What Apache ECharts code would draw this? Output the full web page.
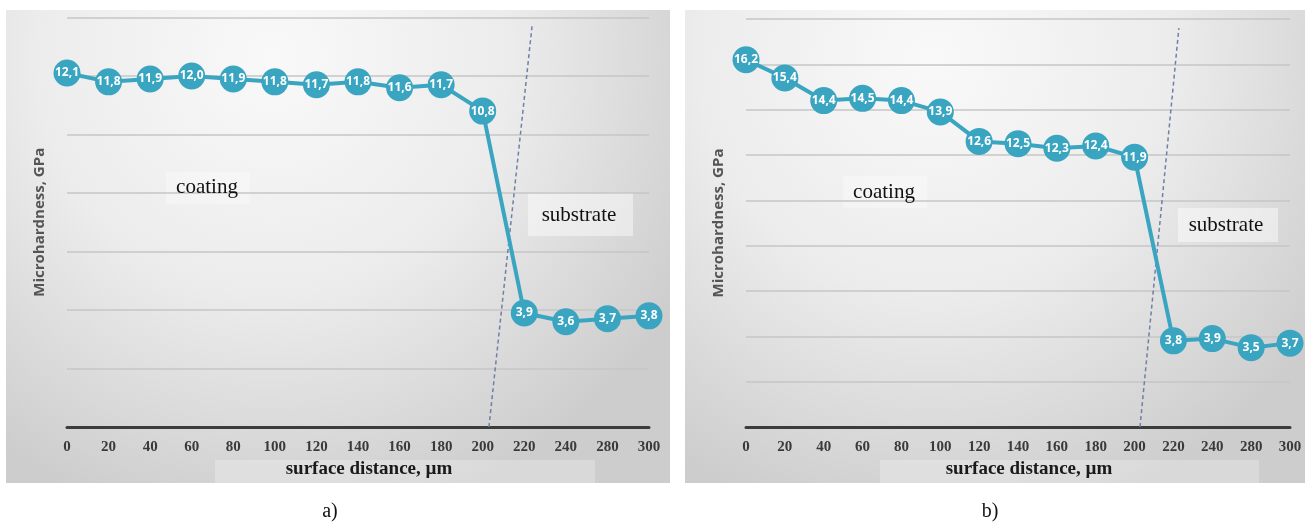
<!DOCTYPE html>
<html>
<head>
<meta charset="utf-8">
<script src="https://cdn.jsdelivr.net/npm/echarts@6/dist/echarts.min.js"></script>
<style>
  html, body { margin: 0; padding: 0; background: #fff; }
  #chart { width: 1308px; height: 531px; }
</style>
</head>
<body>
<div id="chart"></div>
<script>
// x tick labels (260 is missing in the original)
const distanceTicks = ['0', '20', '40', '60', '80', '100', '120', '140', '160', '180', '200', '220', '240', '280', '300']
// microhardness, GPa
const hardnessA = [12.1, 11.8, 11.9, 12.0, 11.9, 11.8, 11.7, 11.8, 11.6, 11.7, 10.8, 3.9, 3.6, 3.7, 3.8]
const hardnessB = [16.2, 15.4, 14.4, 14.5, 14.4, 13.9, 12.6, 12.5, 12.3, 12.4, 11.9, 3.8, 3.9, 3.5, 3.7]
// coating / substrate boundary (dashed), [tick index, GPa]
const boundaryA = [[10.15, 0], [11.19, 13.75]]
const boundaryB = [[10.14, 0], [11.14, 17.6]]

const teal = '#3aa5c1'
const serif = '"Liberation Serif", "Times New Roman", serif'
const sans = '"Open Sans", "Liberation Sans", sans-serif'

const toPairs = (arr) => arr.map((v, i) => [i, v])

const chart = echarts.init(document.getElementById('chart'))

// 背景面板
const panelBg = (x, w) => ({
  type: 'rect',
  z: -10,
  shape: { x: x, y: 10, width: w, height: 473 },
  style: {
    fill: new echarts.graphic.RadialGradient(0.4, 0.1, 1.0, [
      { offset: 0, color: '#f9f9f9' },
      { offset: 0.5, color: '#ececec' },
      { offset: 1, color: '#cdcdcd' }
    ])
  }
})
const softBox = (x, y, w, h, a) => ({
  type: 'rect',
  z: -5,
  shape: { x: x, y: y, width: w, height: h },
  style: { fill: 'rgba(255,255,255,' + a + ')' }
})
const label = (text, x, y, size, weight) => ({
  type: 'text',
  z: 10,
  x: x,
  y: y,
  style: {
    text: text,
    fill: '#111',
    font: (weight || 'normal') + ' ' + size + 'px ' + serif,
    textAlign: 'center',
    textVerticalAlign: 'middle'
  }
})

const xAxisBase = (gridIndex) => ({
  type: 'value',
  gridIndex: gridIndex,
  min: 0,
  max: distanceTicks.length - 1,
  interval: 1,
  name: 'surface distance, µm',
  nameLocation: 'middle',
  nameGap: 32,
  nameTextStyle: {
    fontFamily: serif,
    fontWeight: 'bold',
    fontSize: 19,
    color: '#1a1a1a',
    padding: [0, 0, 0, 22]
  },
  axisLine: { show: true, onZero: false, lineStyle: { color: '#3c3c3c', width: 3 } },
  axisTick: { show: false },
  splitLine: { show: false },
  axisLabel: {
    margin: 13,
    fontFamily: serif,
    fontWeight: 'bold',
    fontSize: 15,
    color: '#3a3a3a',
    formatter: (v) => distanceTicks[v] || ''
  }
})

const yAxisBase = (gridIndex, max, gap) => ({
  type: 'value',
  gridIndex: gridIndex,
  min: 0,
  max: max,
  interval: 2,
  name: 'Microhardness, GPa',
  nameLocation: 'middle',
  nameGap: gap,
  nameTextStyle: {
    fontFamily: sans,
    fontWeight: 'bold',
    fontSize: 15,
    color: '#555'
  },
  axisLine: { show: false },
  axisTick: { show: false },
  axisLabel: { show: false },
  splitLine: { lineStyle: { color: '#c6c6c6', width: 1.5 } }
})

const hardSeries = (idx, data) => ({
  type: 'line',
  xAxisIndex: idx,
  yAxisIndex: idx,
  data: toPairs(data),
  symbol: 'circle',
  symbolSize: 27,
  z: 5,
  lineStyle: { color: teal, width: 4 },
  itemStyle: { color: teal },
  label: {
    show: true,
    position: 'inside',
    color: '#fff',
    fontFamily: sans,
    fontWeight: 'bold',
    fontSize: 12,
    formatter: (p) => p.value[1].toFixed(1).replace('.', ',')
  },
  animation: false
})

const boundarySeries = (idx, data) => ({
  type: 'line',
  xAxisIndex: idx,
  yAxisIndex: idx,
  data: data,
  symbol: 'none',
  z: 4,
  lineStyle: { color: '#6f7fa6', width: 1.5, type: [4, 3] },
  animation: false
})

const option = {
  backgroundColor: '#fff',
  animation: false,
  graphic: {
    elements: [
      panelBg(6, 664),
      panelBg(685, 620),
      softBox(215, 460, 380, 23, 0.25),
      softBox(880, 460, 379, 23, 0.25),
      softBox(166, 172, 84, 32, 0.3),
      softBox(528, 193, 105, 43, 0.45),
      softBox(843, 176, 84, 32, 0.3),
      softBox(1178, 208, 100, 34, 0.45),
      label('coating', 207, 187, 21),
      label('substrate', 579, 215, 21),
      label('coating', 884, 192, 21),
      label('substrate', 1226, 225, 21),
      label('a)', 330, 512, 20),
      label('b)', 990, 512, 20)
    ]
  },
  grid: [
    { left: 67, right: 659, top: 17.5, bottom: 104 },
    { left: 746, right: 18, top: 19, bottom: 104 }
  ],
  xAxis: [xAxisBase(0), xAxisBase(1)],
  yAxis: [yAxisBase(0, 14, 20), yAxisBase(1, 18, 20)],
  series: [
    boundarySeries(0, boundaryA),
    boundarySeries(1, boundaryB),
    hardSeries(0, hardnessA),
    hardSeries(1, hardnessB)
  ]
}
chart.setOption(option)
</script>
</body>
</html>
